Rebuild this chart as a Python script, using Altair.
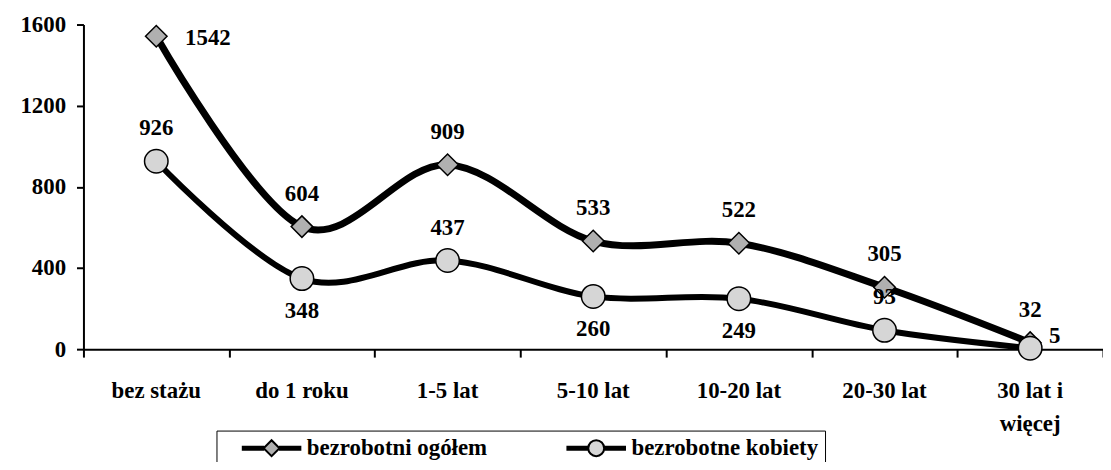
import altair as alt
import pandas as pd

# ---- data ----
categories = ["bez stażu", "do 1 roku", "1-5 lat", "5-10 lat", "10-20 lat", "20-30 lat", "30 lat i\nwięcej"]
series_names = ["bezrobotni ogółem", "bezrobotne kobiety"]
ogolem = [1542, 604, 909, 533, 522, 305, 32]
kobiety = [926, 348, 437, 260, 249, 93, 5]
# where each value label sits relative to its point
label_pos_ogolem = ["right", "above", "above", "above", "above", "above", "above"]
label_pos_kobiety = ["above", "below", "above", "below", "below", "above", "upright"]
y_ticks = [0, 400, 800, 1200, 1600]

rows = []
for s, vals, lp in ((series_names[0], ogolem, label_pos_ogolem),
                    (series_names[1], kobiety, label_pos_kobiety)):
    for i, (v, p) in enumerate(zip(vals, lp)):
        rows.append({"idx": i, "series": s, "value": v, "labelpos": p})
df = pd.DataFrame(rows)
cat_df = pd.DataFrame({"idx": list(range(len(categories))), "category": categories})

FONT = "Liberation Serif"
FS = 23
W, H = 1027, 327

x_scale = alt.Scale(domain=[0, len(categories)], nice=False, zero=False)
y_scale = alt.Scale(domain=[0, 1600], nice=False)

y_axis = alt.Axis(values=y_ticks, format="d", title=None, grid=False, labelPadding=11,
                  labelFont=FONT, labelFontSize=FS, labelFontWeight="bold", labelColor="black",
                  tickSize=7, tickWidth=2, tickColor="black", domainColor="black",
                  domainWidth=2, labelFlush=False)

x_axis = alt.Axis(values=list(range(len(categories) + 1)), title=None, grid=False,
                  labels=False, tickSize=8, tickWidth=2, tickColor="black",
                  domainColor="black", domainWidth=2)

base = alt.Chart(df).transform_calculate(pos="datum.idx + 0.5")


def X(axis):
    return alt.X("pos:Q", scale=x_scale, axis=axis)


Y = alt.Y("value:Q", scale=y_scale, axis=y_axis)

line_og = base.transform_filter(alt.datum.series == series_names[0]).mark_line(
    interpolate="cardinal", color="black", strokeWidth=7).encode(x=X(x_axis), y=Y)
line_kb = base.transform_filter(alt.datum.series == series_names[1]).mark_line(
    interpolate="cardinal", color="black", strokeWidth=6).encode(x=X(x_axis), y=Y)

pts_og = base.transform_filter(alt.datum.series == series_names[0]).mark_point(
    shape="diamond", filled=True, fill="#b0b0b0", stroke="black", strokeWidth=1.5,
    size=470, opacity=1).encode(x=X(x_axis), y=Y)
pts_kb = base.transform_filter(alt.datum.series == series_names[1]).mark_point(
    shape="circle", filled=True, fill="#d6d6d6", stroke="black", strokeWidth=1.5,
    size=560, opacity=1).encode(x=X(x_axis), y=Y)

text_kw = dict(font=FONT, fontSize=FS, fontWeight="bold", color="black")
lbl_above = base.transform_filter(alt.datum.labelpos == "above").mark_text(
    dy=-33, **text_kw).encode(x=X(x_axis), y=Y, text="value:Q")
lbl_below = base.transform_filter(alt.datum.labelpos == "below").mark_text(
    dy=33, **text_kw).encode(x=X(x_axis), y=Y, text="value:Q")
lbl_right = base.transform_filter(alt.datum.labelpos == "right").mark_text(
    dx=29, dy=2, align="left", **text_kw).encode(x=X(x_axis), y=Y, text="value:Q")
lbl_upright = base.transform_filter(alt.datum.labelpos == "upright").mark_text(
    dx=19, dy=-12, align="left", **text_kw).encode(x=X(x_axis), y=Y, text="value:Q")

# category names under the axis
cat_text = alt.Chart(cat_df).transform_calculate(pos="datum.idx + 0.5").mark_text(
    baseline="top", lineBreak="\n", lineHeight=33, **text_kw).encode(
    x=X(x_axis), y=alt.value(H + 31), text="category:N")

# legend symbols: thick line with a marker in the middle
arms = "".join(f"M-3,{o}L-0.75,{o}M0.75,{o}L3,{o}" for o in (-0.15, -0.05, 0.05, 0.15))
path_diamond = arms + "M-0.8,0L0,-0.8L0.8,0L0,0.8Z"
path_circle = arms + "M-0.8,0A0.8,0.8,0,1,1,0.8,0A0.8,0.8,0,1,1,-0.8,0Z"

legend = alt.Legend(title=None, orient="none", legendX=134, legendY=409, direction="horizontal",
                    strokeColor="black", padding=6, labelLimit=400,
                    labelFont=FONT, labelFontSize=FS, labelFontWeight="bold", labelColor="black",
                    symbolSize=400, symbolStrokeWidth=2,
                    symbolOffset=38, labelOffset=24, columnPadding=60)

legend_layer = base.transform_filter("false").mark_point(
    filled=True, strokeWidth=2, size=400, opacity=1).encode(
    x=X(x_axis), y=Y,
    shape=alt.Shape("series:N", scale=alt.Scale(domain=series_names, range=[path_diamond, path_circle]),
                    legend=legend),
    fill=alt.Fill("series:N", scale=alt.Scale(domain=series_names, range=["#b0b0b0", "#d6d6d6"]),
                  legend=legend),
    stroke=alt.Stroke("series:N", scale=alt.Scale(domain=series_names, range=["black", "black"]),
                      legend=legend),
)

chart = alt.layer(
    line_og, line_kb, pts_og, pts_kb, lbl_above, lbl_below, lbl_right, lbl_upright, cat_text,
    legend_layer
).properties(
    width=W, height=H,
    padding={"left": 76, "top": 15, "right": 0, "bottom": 112},
    autosize=alt.AutoSizeParams(type="none"),
).configure_view(stroke=None)

chart.save("out.html", embed_options={"renderer": "svg", "actions": False})
